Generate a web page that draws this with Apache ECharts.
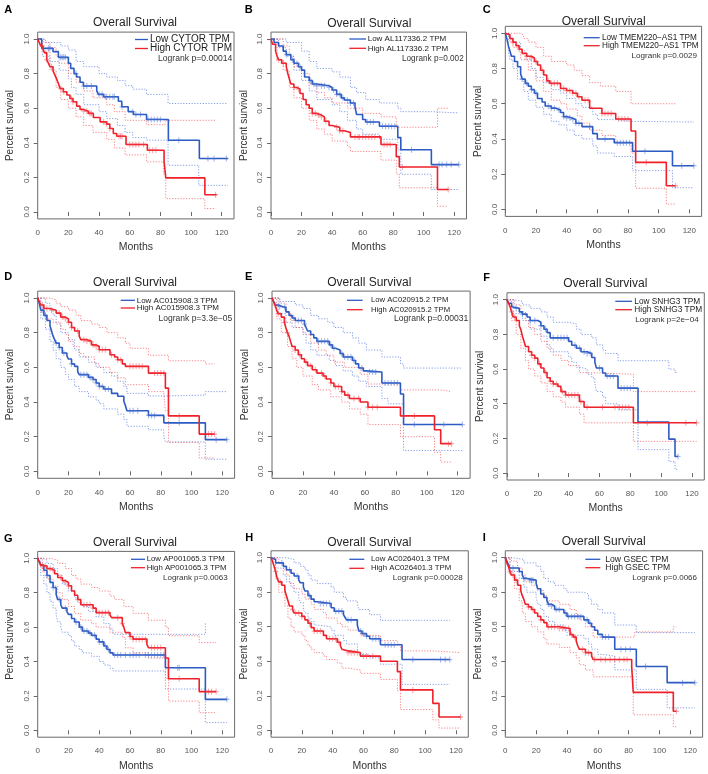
<!DOCTYPE html>
<html><head><meta charset="utf-8">
<script src="https://cdn.jsdelivr.net/npm/echarts@6/dist/echarts.min.js"></script>
<style>html,body{margin:0;padding:0;background:#fff}#c{width:708px;height:774px}</style>
</head><body><div id="c"></div>
<script>
// ---------------- DATA ----------------
const panelLetters = ['A','B','C','D','E','F','G','H','I'];
const geneNames = ['CYTOR','AL117336.2','TMEM220\u2212AS1','AC015908.3','AC020915.2','SNHG3','AP001065.3','AC026401.3','GSEC'];
const logrankP = ['0.00014','0.002','0.0029','3.3e\u221205','0.00031','2e\u221204','0.0063','0.00028','0.0066'];
const xTickValues = [0,20,40,60,80,100,120];
const yTickValues = [0,0.2,0.4,0.6,0.8,1.0];

// Panel A
const A_low = [[0,1],[2.6,0.946],[10,0.927],[13.5,0.894],[20,0.86],[21.5,0.83],[23.7,0.80],[25.4,0.78],[27.6,0.75],[29.8,0.728],[38.5,0.70],[39.6,0.68],[43,0.666],[52.6,0.64],[54.8,0.608],[59,0.58],[62.4,0.564],[71,0.535],[85.2,0.415],[105.4,0.309],[124,0.309]];
const A_high = [[0,1],[1,0.98],[2,0.96],[3.5,0.94],[4.5,0.92],[5.9,0.88],[7,0.86],[8,0.84],[10,0.815],[11.3,0.79],[12.5,0.765],[13.5,0.743],[14.6,0.714],[16.7,0.695],[19,0.676],[21,0.656],[23,0.637],[25.4,0.612],[27.6,0.593],[29.8,0.583],[33,0.57],[36.3,0.546],[40.7,0.521],[45,0.508],[47,0.483],[49.3,0.454],[51.5,0.438],[57.6,0.39],[71.5,0.357],[82.4,0.295],[83.5,0.197],[109,0.10],[116.7,0.10]];
const A_lowCens = [7,8,15,16,17,18,25,30,32,35,40,42,44,45,47,49,50,55,62,64,67,72,74,76,78,80,92,111,115,123];
const A_highCens = [3,6,9,15,17,22,23,30,32,34,35,43,45,47,53,54,55,60,62,64,66,69,73,75,77,116];
const A_lowUp = [[0,1],[5,0.98],[15,0.96],[20,0.936],[25,0.87],[30,0.84],[40,0.80],[45,0.78],[52,0.76],[57,0.73],[62,0.71],[71,0.68],[85,0.627],[124,0.627]];
const A_lowLo = [[0,1],[3,0.9],[8,0.87],[14,0.82],[20,0.77],[22,0.72],[25,0.68],[30,0.62],[40,0.58],[45,0.54],[52,0.50],[57,0.46],[62,0.43],[71,0.415],[85,0.27],[105,0.154],[124,0.154]];
const A_highUp = [[0,1],[4,0.98],[8,0.95],[12,0.9],[14,0.86],[20,0.8],[25,0.75],[30,0.70],[36,0.66],[45,0.62],[50,0.58],[57,0.53],[71,0.505],[83,0.53],[116,0.53]];
const A_highLo = [[0,1],[3,0.93],[8,0.82],[12,0.72],[15,0.65],[20,0.6],[25,0.55],[30,0.5],[36,0.46],[45,0.42],[50,0.37],[57,0.33],[71,0.29],[82,0.22],[83.5,0.077],[109,0.02],[116,0.02]];

// Panel B
const B_low = [[0,1],[2,0.98],[5,0.96],[8,0.93],[10,0.91],[13,0.88],[15,0.86],[18,0.84],[20,0.82],[22,0.78],[25,0.76],[27,0.74],[30,0.73],[38,0.72],[40,0.705],[43,0.68],[46,0.66],[48,0.647],[52,0.63],[55,0.608],[56,0.564],[60,0.535],[62,0.52],[71,0.496],[83,0.43],[85,0.36],[105,0.274],[123,0.274]];
const B_high = [[0,1],[1,0.97],[3,0.93],[4,0.9],[5,0.88],[7,0.86],[10,0.84],[11,0.8],[12,0.77],[13,0.74],[15,0.72],[17,0.71],[19,0.685],[21,0.65],[23,0.62],[25,0.6],[27,0.57],[30,0.56],[33,0.55],[35,0.525],[38,0.5],[40,0.49],[45,0.47],[48,0.46],[52,0.434],[72,0.39],[82,0.32],[84,0.26],[109,0.13],[116,0.13]];
const B_lowCens = [10,14,17,19,26,28,30,33,35,38,41,43,45,47,50,52,54,63,65,67,73,75,77,79,81,92,110,112,115,118,123];
const B_highCens = [5,8,15,18,27,29,31,33,36,43,45,47,55,57,58,60,62,64,66,68,74,76,78,86,116];
const B_lowUp = [[0,1],[10,0.98],[20,0.93],[25,0.87],[30,0.83],[40,0.81],[45,0.78],[52,0.72],[56,0.69],[62,0.65],[71,0.63],[83,0.6],[85,0.58],[105,0.573],[123,0.573]];
const B_lowLo = [[0,1],[5,0.95],[10,0.9],[15,0.82],[20,0.76],[25,0.70],[30,0.65],[40,0.62],[45,0.58],[50,0.53],[56,0.48],[60,0.45],[71,0.42],[83,0.36],[85,0.218],[105,0.13],[123,0.13]];
const B_highUp = [[0,1],[8,0.96],[12,0.9],[15,0.84],[20,0.8],[25,0.74],[30,0.69],[35,0.66],[40,0.63],[50,0.6],[60,0.57],[72,0.55],[82,0.49],[109,0.6],[116,0.6]];
const B_highLo = [[0,1],[4,0.88],[8,0.82],[12,0.72],[15,0.66],[20,0.6],[25,0.53],[30,0.48],[35,0.45],[40,0.41],[50,0.38],[52,0.35],[72,0.3],[82,0.22],[84,0.14],[109,0.033],[116,0.033]];

// Panel C
const C_low = [[0,1],[1,0.97],[2,0.93],[3,0.9],[4,0.87],[6,0.84],[8,0.81],[10,0.77],[11,0.74],[13,0.716],[15,0.7],[17,0.68],[19,0.66],[21,0.63],[24,0.61],[26,0.587],[30,0.575],[33,0.564],[36,0.55],[38,0.527],[40,0.52],[43,0.51],[46,0.489],[50,0.47],[57,0.43],[60,0.4],[71,0.379],[83,0.33],[109,0.248],[123,0.248]];
const C_high = [[0,1],[1,0.99],[3,0.97],[5,0.95],[7,0.93],[9,0.91],[11,0.886],[14,0.87],[17,0.86],[19,0.84],[21,0.82],[23,0.79],[25,0.763],[27,0.73],[29,0.716],[36,0.687],[40,0.675],[44,0.66],[47,0.64],[50,0.62],[55,0.574],[63,0.545],[72,0.513],[82,0.445],[85,0.267],[105,0.134],[111,0.134]];
const C_lowCens = [11,14,17,20,28,30,32,35,38,40,42,44,46,48,55,65,73,75,77,79,81,91,115,123];
const C_highCens = [5,9,14,17,20,24,28,30,32,34,38,40,42,44,46,48,52,54,63,65,67,69,74,76,78,80,92,111];
const C_lowUp = [[0,1],[3,0.97],[5,0.95],[10,0.9],[13,0.85],[17,0.8],[20,0.75],[25,0.72],[30,0.68],[36,0.66],[40,0.63],[46,0.6],[50,0.58],[57,0.54],[60,0.51],[71,0.5],[83,0.496],[123,0.496]];
const C_lowLo = [[0,1],[2,0.9],[3,0.85],[5,0.8],[8,0.74],[12,0.67],[15,0.62],[20,0.58],[25,0.54],[30,0.5],[35,0.48],[40,0.45],[45,0.42],[50,0.4],[57,0.36],[60,0.32],[71,0.3],[83,0.22],[109,0.123],[123,0.123]];
const C_highUp = [[0,1],[10,0.99],[12,0.97],[15,0.95],[20,0.92],[25,0.87],[30,0.84],[40,0.82],[45,0.79],[50,0.76],[55,0.72],[62,0.7],[72,0.67],[82,0.6],[111,0.6]];
const C_highLo = [[0,1],[3,0.95],[5,0.92],[10,0.85],[15,0.79],[20,0.73],[25,0.67],[30,0.62],[36,0.6],[40,0.57],[47,0.53],[50,0.49],[55,0.45],[63,0.42],[72,0.38],[82,0.32],[85,0.12],[105,0.03],[111,0.03]];

// Panel D
const D_low = [[0,1],[1,0.97],[2,0.93],[4,0.9],[6,0.87],[8,0.84],[9,0.81],[10,0.78],[11,0.76],[12,0.74],[14,0.715],[16,0.683],[19,0.665],[20,0.648],[22,0.62],[24,0.606],[26,0.575],[27,0.558],[33,0.542],[36,0.53],[38,0.51],[40,0.49],[43,0.475],[48,0.45],[52,0.433],[56,0.404],[57,0.38],[58,0.35],[72,0.323],[82,0.28],[109,0.183],[123,0.183]];
const D_high = [[0,1],[1,0.98],[2,0.96],[4,0.94],[8,0.93],[12,0.913],[15,0.89],[18,0.88],[20,0.86],[22,0.83],[24,0.81],[27,0.78],[28,0.76],[32,0.75],[35,0.73],[38,0.72],[40,0.702],[47,0.673],[50,0.66],[52,0.644],[55,0.62],[57,0.606],[72,0.567],[83,0.48],[85,0.32],[105,0.215],[115,0.215]];
const D_lowCens = [3,5,12,14,17,22,28,30,32,34,36,38,40,42,44,46,60,62,65,72,74,76,92,116,123];
const D_highCens = [3,6,9,14,16,18,20,22,26,30,32,34,36,38,40,42,44,48,52,54,60,62,64,66,68,76,78,80,82,92,111,113,115];
const D_lowUp = [[0,1],[5,0.97],[8,0.93],[10,0.9],[12,0.85],[15,0.8],[20,0.76],[24,0.7],[27,0.66],[33,0.63],[38,0.6],[43,0.57],[48,0.55],[52,0.52],[56,0.49],[58,0.45],[72,0.435],[82,0.44],[109,0.46],[123,0.46]];
const D_lowLo = [[0,1],[2,0.88],[5,0.82],[8,0.75],[10,0.7],[12,0.65],[15,0.6],[18,0.56],[20,0.53],[24,0.49],[27,0.46],[33,0.43],[38,0.41],[40,0.39],[43,0.36],[52,0.33],[56,0.3],[58,0.26],[72,0.24],[82,0.2],[83,0.17],[109,0.07],[123,0.07]];
const D_highUp = [[0,1],[8,0.99],[12,0.97],[15,0.95],[20,0.93],[25,0.9],[28,0.87],[35,0.85],[40,0.83],[45,0.8],[52,0.77],[57,0.74],[60,0.71],[72,0.67],[85,0.638],[109,0.62],[115,0.62]];
const D_highLo = [[0,1],[2,0.92],[5,0.88],[10,0.86],[15,0.82],[18,0.79],[20,0.75],[23,0.72],[27,0.68],[30,0.66],[37,0.62],[40,0.6],[47,0.57],[52,0.54],[57,0.5],[72,0.46],[82,0.44],[83,0.35],[85,0.167],[105,0.077],[115,0.077]];

// Panel E
const E_low = [[0,1],[1,0.98],[2,0.96],[4,0.95],[7,0.946],[9,0.92],[11,0.9],[13,0.885],[15,0.87],[21,0.85],[22,0.83],[23,0.81],[25,0.79],[27,0.77],[29,0.75],[37,0.73],[39,0.71],[41,0.7],[44,0.68],[46,0.66],[52,0.64],[54,0.62],[56,0.596],[59,0.58],[61,0.573],[71,0.51],[83,0.446],[85,0.27],[123,0.27]];
const E_high = [[0,1],[1,0.98],[2,0.96],[3,0.93],[4,0.91],[6,0.89],[8,0.86],[9,0.827],[10,0.8],[11,0.78],[12,0.75],[13,0.72],[15,0.7],[17,0.673],[19,0.65],[21,0.63],[23,0.61],[26,0.586],[29,0.567],[33,0.55],[35,0.533],[38,0.51],[40,0.49],[45,0.46],[47,0.44],[50,0.42],[57,0.4],[62,0.37],[83,0.32],[105,0.24],[109,0.16],[116,0.16]];
const E_lowCens = [5,8,14,17,19,21,30,32,34,36,38,40,45,47,49,51,53,58,63,65,67,73,75,77,79,81,92,111,123];
const E_highCens = [2,4,8,10,15,18,22,25,28,32,34,38,41,43,45,49,53,56,62,65,68,85,92,114,116];
const E_lowUp = [[0,1],[5,0.98],[15,0.96],[20,0.94],[25,0.9],[30,0.88],[36,0.86],[40,0.83],[46,0.8],[52,0.77],[56,0.74],[61,0.7],[71,0.66],[83,0.62],[85,0.596],[123,0.596]];
const E_lowLo = [[0,1],[4,0.91],[9,0.86],[13,0.83],[20,0.8],[22,0.74],[25,0.7],[29,0.67],[37,0.64],[41,0.61],[46,0.58],[52,0.55],[56,0.52],[61,0.49],[71,0.42],[75,0.39],[85,0.12],[123,0.12]];
const E_highUp = [[0,1],[5,0.97],[9,0.92],[12,0.87],[15,0.83],[20,0.79],[25,0.74],[30,0.7],[35,0.67],[40,0.63],[47,0.6],[57,0.56],[62,0.504],[83,0.47],[109,0.46],[116,0.46]];
const E_highLo = [[0,1],[3,0.88],[6,0.8],[10,0.72],[13,0.65],[16,0.6],[20,0.55],[26,0.5],[30,0.47],[38,0.43],[45,0.4],[50,0.36],[57,0.33],[62,0.27],[83,0.2],[105,0.11],[109,0.054],[116,0.054]];

// Panel F
const F_low = [[0,1],[1,0.98],[3,0.96],[4,0.95],[8,0.93],[10,0.917],[13,0.9],[15,0.88],[20,0.87],[22,0.85],[24,0.83],[26,0.81],[28,0.78],[40,0.76],[42,0.737],[45,0.72],[48,0.7],[52,0.69],[55,0.667],[57,0.64],[58,0.606],[62,0.577],[64,0.56],[72,0.49],[85,0.294],[105,0.196],[109,0.096],[111,0.096]];
const F_high = [[0,1],[1,0.98],[2,0.96],[3,0.93],[4,0.9],[6,0.88],[8,0.85],[9,0.827],[10,0.79],[11,0.76],[12,0.73],[14,0.7],[16,0.68],[18,0.663],[20,0.63],[22,0.606],[24,0.58],[26,0.55],[28,0.53],[30,0.514],[33,0.5],[35,0.47],[38,0.45],[47,0.413],[50,0.38],[82,0.29],[123,0.29]];
const F_lowCens = [6,10,15,18,22,25,30,33,35,37,39,44,47,50,52,54,60,65,67,69,74,76,78,80,111];
const F_highCens = [3,5,16,18,21,25,28,30,32,36,38,40,42,44,46,48,52,62,70,73,75,77,79,91,116,123];
const F_lowUp = [[0,1],[5,0.99],[10,0.97],[15,0.95],[22,0.93],[26,0.9],[30,0.87],[40,0.86],[45,0.83],[48,0.8],[55,0.78],[58,0.74],[62,0.71],[64,0.69],[72,0.648],[105,0.6],[109,0.58],[111,0.58]];
const F_lowLo = [[0,1],[4,0.92],[10,0.88],[15,0.83],[22,0.79],[26,0.74],[28,0.7],[40,0.67],[42,0.64],[45,0.61],[48,0.6],[52,0.57],[55,0.55],[57,0.52],[58,0.47],[62,0.44],[64,0.4],[72,0.365],[85,0.135],[105,0.067],[109,0.02],[111,0.02]];
const F_highUp = [[0,1],[5,0.97],[9,0.93],[12,0.88],[14,0.84],[18,0.8],[22,0.76],[26,0.72],[30,0.68],[35,0.65],[40,0.62],[47,0.58],[50,0.57],[82,0.47],[123,0.47]];
const F_highLo = [[0,1],[3,0.88],[6,0.8],[9,0.72],[12,0.65],[14,0.6],[18,0.56],[22,0.52],[26,0.47],[30,0.44],[35,0.41],[38,0.38],[47,0.34],[50,0.29],[82,0.183],[123,0.183]];

// Panel G
const G_low = [[0,1],[1,0.98],[2,0.96],[4,0.93],[6,0.9],[8,0.86],[10,0.83],[12,0.79],[13,0.76],[15,0.73],[16,0.71],[19,0.69],[20,0.674],[22,0.65],[24,0.63],[27,0.6],[29,0.577],[33,0.565],[35,0.552],[38,0.53],[40,0.514],[43,0.49],[45,0.47],[47,0.45],[49,0.438],[83,0.364],[109,0.18],[123,0.18]];
const G_high = [[0,1],[1,0.98],[2,0.96],[3,0.955],[6,0.94],[9,0.93],[11,0.91],[13,0.888],[16,0.87],[18,0.86],[20,0.84],[22,0.81],[24,0.785],[26,0.76],[28,0.73],[36,0.71],[38,0.684],[47,0.67],[48,0.655],[55,0.62],[56,0.6],[57,0.568],[60,0.545],[62,0.53],[71,0.5],[72,0.48],[83,0.42],[85,0.3],[105,0.225],[116,0.225]];
const G_lowCens = [6,10,14,18,25,28,30,32,34,37,40,42,44,46,50,52,54,57,60,62,64,66,70,72,74,76,78,80,82,91,92,123];
const G_highCens = [3,5,8,10,15,18,20,26,30,32,34,36,40,42,44,46,52,55,60,62,64,66,68,70,74,76,78,80,92,111,113,116];
const G_lowUp = [[0,1],[3,0.99],[6,0.97],[10,0.94],[13,0.9],[16,0.85],[20,0.81],[24,0.77],[27,0.74],[29,0.72],[33,0.69],[38,0.66],[43,0.62],[47,0.59],[49,0.558],[109,0.63]];
const G_lowLo = [[0,1],[2,0.9],[4,0.85],[6,0.8],[8,0.75],[10,0.71],[12,0.67],[13,0.63],[15,0.6],[16,0.57],[20,0.55],[22,0.52],[24,0.49],[27,0.47],[29,0.45],[35,0.43],[40,0.4],[43,0.38],[47,0.36],[49,0.345],[83,0.24],[109,0.045],[123,0.045]];
const G_highUp = [[0,1],[8,0.99],[13,0.97],[18,0.94],[22,0.9],[25,0.88],[28,0.85],[35,0.83],[40,0.81],[47,0.78],[50,0.76],[56,0.72],[62,0.68],[72,0.64],[83,0.6],[85,0.55],[105,0.51],[116,0.51]];
const G_highLo = [[0,1],[3,0.92],[6,0.88],[10,0.84],[13,0.8],[16,0.76],[20,0.72],[24,0.68],[28,0.64],[35,0.62],[38,0.6],[47,0.57],[55,0.54],[57,0.48],[62,0.45],[72,0.42],[83,0.3],[85,0.17],[105,0.103],[116,0.103]];

// Panel H
const H_low = [[0,1],[1,0.99],[3,0.97],[8,0.95],[10,0.93],[13,0.91],[15,0.894],[18,0.87],[19,0.855],[21,0.83],[22,0.807],[24,0.78],[26,0.76],[28,0.745],[30,0.735],[39,0.71],[41,0.69],[47,0.67],[48,0.655],[49,0.64],[56,0.61],[57,0.575],[59,0.56],[62,0.545],[64,0.53],[71,0.496],[85,0.41],[116,0.41]];
const H_high = [[0,1],[1,0.98],[2,0.95],[3,0.92],[4,0.88],[5,0.86],[7,0.84],[9,0.81],[10,0.78],[11,0.75],[12,0.72],[14,0.7],[15,0.68],[20,0.66],[22,0.64],[24,0.62],[26,0.595],[28,0.575],[34,0.55],[36,0.53],[43,0.51],[45,0.49],[46,0.47],[47,0.46],[50,0.45],[58,0.43],[71,0.4],[82,0.34],[84,0.234],[105,0.156],[109,0.077],[123,0.077]];
const H_lowCens = [7,12,17,25,32,34,36,38,42,44,46,50,52,58,60,62,66,68,70,74,76,78,80,92,110,113,116];
const H_highCens = [3,6,14,16,18,20,25,28,30,32,38,40,42,44,50,52,54,56,60,62,66,92,123];
const H_lowUp = [[0,1],[10,0.99],[15,0.97],[19,0.95],[22,0.93],[24,0.9],[26,0.87],[30,0.85],[39,0.83],[41,0.8],[47,0.77],[49,0.75],[56,0.73],[57,0.7],[64,0.67],[71,0.637],[116,0.637]];
const H_lowLo = [[0,1],[3,0.94],[8,0.9],[10,0.86],[13,0.83],[15,0.8],[18,0.77],[19,0.74],[21,0.7],[22,0.68],[24,0.65],[26,0.63],[28,0.61],[30,0.6],[39,0.58],[41,0.55],[47,0.52],[49,0.5],[56,0.47],[57,0.44],[64,0.42],[71,0.383],[85,0.266],[116,0.266]];
const H_highUp = [[0,1],[5,0.97],[8,0.93],[10,0.9],[12,0.85],[15,0.82],[20,0.79],[22,0.76],[26,0.73],[28,0.7],[34,0.68],[36,0.65],[43,0.62],[46,0.6],[50,0.58],[58,0.55],[71,0.52],[82,0.5],[84,0.46],[105,0.45],[123,0.45]];
const H_highLo = [[0,1],[3,0.88],[5,0.8],[9,0.72],[11,0.65],[13,0.6],[15,0.57],[20,0.55],[22,0.52],[24,0.49],[26,0.47],[28,0.45],[34,0.43],[36,0.41],[43,0.39],[46,0.36],[50,0.35],[58,0.33],[71,0.295],[82,0.23],[84,0.12],[105,0.06],[109,0.013],[123,0.013]];

// Panel I
const I_low = [[0,1],[1,0.98],[2,0.96],[3,0.94],[9,0.92],[11,0.9],[12,0.88],[14,0.87],[20,0.85],[21,0.82],[23,0.79],[25,0.77],[27,0.75],[28,0.73],[30,0.72],[32,0.7],[38,0.68],[40,0.66],[51,0.64],[54,0.62],[56,0.6],[58,0.58],[60,0.556],[63,0.54],[71,0.47],[85,0.37],[105,0.276],[123,0.276]];
const I_high = [[0,1],[1,0.97],[2,0.95],[3,0.92],[4,0.9],[6,0.87],[8,0.84],[10,0.81],[11,0.78],[12,0.76],[13,0.73],[15,0.715],[17,0.7],[19,0.68],[21,0.66],[23,0.64],[25,0.624],[27,0.6],[35,0.59],[42,0.555],[44,0.54],[46,0.517],[47,0.49],[48,0.47],[52,0.45],[56,0.43],[57,0.41],[82,0.37],[83,0.22],[109,0.11],[111,0.11]];
const I_lowCens = [5,12,16,17,18,28,30,33,35,39,41,43,45,47,49,53,55,63,65,67,75,78,81,91,115,123];
const I_highCens = [3,5,7,15,18,23,28,30,32,35,37,39,41,43,45,50,52,54,58,62,65,68,71,74,77,79,111];
const I_lowUp = [[0,1],[5,0.99],[12,0.97],[20,0.95],[23,0.92],[25,0.88],[28,0.86],[32,0.84],[38,0.82],[40,0.8],[51,0.79],[54,0.76],[56,0.73],[60,0.7],[63,0.68],[71,0.61],[85,0.566],[123,0.566]];
const I_lowLo = [[0,1],[3,0.92],[9,0.88],[12,0.83],[14,0.8],[20,0.77],[21,0.73],[23,0.7],[25,0.66],[28,0.63],[32,0.61],[38,0.58],[40,0.55],[51,0.53],[54,0.5],[56,0.47],[60,0.44],[63,0.43],[71,0.35],[85,0.237],[105,0.13],[123,0.13]];
const I_highUp = [[0,1],[4,0.98],[8,0.94],[11,0.9],[13,0.86],[17,0.84],[21,0.81],[25,0.78],[27,0.75],[35,0.73],[42,0.7],[46,0.67],[48,0.64],[52,0.6],[57,0.54],[84,0.57],[109,0.6],[111,0.6]];
const I_highLo = [[0,1],[3,0.9],[6,0.82],[9,0.75],[11,0.68],[13,0.63],[17,0.6],[21,0.57],[25,0.53],[27,0.5],[35,0.48],[42,0.45],[46,0.42],[48,0.38],[52,0.35],[57,0.31],[83,0.09],[109,0.02],[111,0.02]];

const panelData = [
  [A_low,A_high,A_lowUp,A_lowLo,A_highUp,A_highLo,A_lowCens,A_highCens],
  [B_low,B_high,B_lowUp,B_lowLo,B_highUp,B_highLo,B_lowCens,B_highCens],
  [C_low,C_high,C_lowUp,C_lowLo,C_highUp,C_highLo,C_lowCens,C_highCens],
  [D_low,D_high,D_lowUp,D_lowLo,D_highUp,D_highLo,D_lowCens,D_highCens],
  [E_low,E_high,E_lowUp,E_lowLo,E_highUp,E_highLo,E_lowCens,E_highCens],
  [F_low,F_high,F_lowUp,F_lowLo,F_highUp,F_highLo,F_lowCens,F_highCens],
  [G_low,G_high,G_lowUp,G_lowLo,G_highUp,G_highLo,G_lowCens,G_highCens],
  [H_low,H_high,H_lowUp,H_lowLo,H_highUp,H_highLo,H_lowCens,H_highCens],
  [I_low,I_high,I_lowUp,I_lowLo,I_highUp,I_highLo,I_lowCens,I_highCens]
];

// ---------------- LAYOUT (positions / styles) ----------------
const layout = [
  {left:37.7, top:32.1, w:196.3, h:186.8, tX:135,   tY:23,    lX:8.3,   lY:10,    legX:150,   ln:[135,148],     r1:39.5,  r2:48.5,  pY:58.5,  pR:232.3, lf:10,  pf:8.6},
  {left:271,  top:32.1, w:195.5, h:186.8, tX:369.3, tY:23.3,  lX:248.7, lY:10,    legX:367.7, ln:[349.3,366],   r1:39,    r2:48.3,  pY:58.3,  pR:463.7, lf:8,   pf:8.2},
  {left:505.3,top:26.3, w:196.3, h:190.1, tX:603.7, tY:21.7,  lX:486.7, lY:10,    legX:602,   ln:[583.7,599.7], r1:37.7,  r2:45.7,  pY:55.7,  pR:697,   lf:8.2, pf:8.1},
  {left:37.7, top:291.1,w:196.9, h:187.2, tX:135,   tY:283,   lX:8.3,   lY:277,   legX:136.7, ln:[120.7,135],   r1:300.3, r2:308,   pY:318.7, pR:232.3, lf:8,   pf:8.5},
  {left:272,  top:291.1,w:198.1, h:187.2, tX:369.3, tY:283,   lX:248.7, lY:277,   legX:371,   ln:[347,362.7],   r1:300.3, r2:309.7, pY:318.7, pR:468.3, lf:7.7, pf:8.6},
  {left:507,  top:292.8,w:197.3, h:187.2, tX:605.3, tY:284,   lX:486.7, lY:277.7, legX:634.3, ln:[615.3,632],   r1:301.3, r2:309.7, pY:319.7, pR:698.7, lf:8.3, pf:8.1},
  {left:37.7, top:551.4,w:196.9, h:185.8, tX:135,   tY:542.7, lX:8.3,   lY:538.5, legX:146.7, ln:[131,145],     r1:559.3, r2:567.7, pY:577.7, pR:227.7, lf:7.8, pf:8},
  {left:271,  top:550.8,w:197.3, h:186.4, tX:369.3, tY:542.7, lX:249.3, lY:537.7, legX:371,   ln:[349.3,364.3], r1:559.3, r2:568.3, pY:577.7, pR:462.7, lf:7.8, pf:8.1},
  {left:505.3,top:550.8,w:197.3, h:186.4, tX:603.7, tY:542,   lX:484.3, lY:537.7, legX:605.3, ln:[585.3,600.3], r1:559.3, r2:567.7, pY:577.7, pR:697,   lf:8.6, pf:8}
];

const FONT = 'Liberation Sans, Arial, Helvetica, sans-serif';
const BLUE = '#2d5bc4', RED = '#ef2029';
const BLUE_CI = 'rgba(90,125,225,0.75)', RED_CI = 'rgba(245,80,85,0.7)';
const BLUE_C = 'rgba(70,110,210,0.6)', RED_C = 'rgba(240,60,70,0.55)';
const PLUS = 'path://M5,0L5,10M0,5L10,5';

function stepAt(curve, t) {
  let v = curve[0][1];
  for (const p of curve) { if (p[0] <= t) v = p[1]; else break; }
  return v;
}

const grids = [], xAxes = [], yAxes = [], series = [], graphics = [];
layout.forEach((L, i) => {
  const [low, high, lowUp, lowLo, highUp, highLo, lowC, highC] = panelData[i];
  grids.push({left:L.left, top:L.top, width:L.w, height:L.h, show:true, borderColor:'#6a6a6a', borderWidth:1,
    backgroundColor:'transparent', containLabel:false, outerBoundsMode:'none'});
  xAxes.push({type:'value', gridIndex:i, min:0, max:128, position:'bottom',
    axisLine:{show:false}, splitLine:{show:false},
    axisTick:{show:true, inside:false, length:4, customValues:xTickValues, lineStyle:{color:'#6a6a6a', width:1}},
    axisLabel:{customValues:xTickValues, fontSize:8, color:'#555', margin:10, fontFamily:FONT},
    name:'Months', nameLocation:'middle', nameGap:23, nameMoveOverlap:false,
    nameTextStyle:{fontSize:10.5, color:'#333', fontFamily:FONT}});
  yAxes.push({type:'value', gridIndex:i, min:-0.04, max:1.04, position:'left',
    axisLine:{show:false}, splitLine:{show:false},
    axisTick:{show:true, inside:false, length:4, customValues:yTickValues, lineStyle:{color:'#6a6a6a', width:1}},
    axisLabel:{customValues:yTickValues, fontSize:8, color:'#555', margin:7, rotate:90, fontFamily:FONT,
      formatter:(v)=>Number(v).toFixed(1)},
    name:'Percent survival', nameLocation:'middle', nameGap:22, nameMoveOverlap:false,
    nameTextStyle:{fontSize:10, color:'#333', fontFamily:FONT}});

  const ci = (d, c) => ({type:'line', xAxisIndex:i, yAxisIndex:i, data:d, step:'end', symbol:'none', silent:true,
    lineStyle:{color:c, width:1, type:[1.2,1.6]}, z:2});
  series.push(ci(lowUp, BLUE_CI), ci(lowLo, BLUE_CI), ci(highUp, RED_CI), ci(highLo, RED_CI));
  const main = (d, c) => ({type:'line', xAxisIndex:i, yAxisIndex:i, data:d, step:'end', symbol:'none', silent:true,
    lineStyle:{color:c, width:1.6}, z:3});
  series.push(main(low, BLUE), main(high, RED));
  const cens = (ts, curve, c) => ({type:'scatter', xAxisIndex:i, yAxisIndex:i, silent:true, z:4,
    data: ts.map(t => [t, stepAt(curve, t)]), symbol:PLUS, symbolSize:[5,6], symbolKeepAspect:false,
    itemStyle:{color:'transparent', borderColor:c, borderWidth:1.2}});
  series.push(cens(lowC, low, BLUE_C), cens(highC, high, RED_C));

  // title, panel letter, legend
  graphics.push({type:'text', silent:true, style:{text:'Overall Survival', x:L.tX, y:L.tY, align:'center', verticalAlign:'middle',
    fontSize:12, fontFamily:FONT, fill:'#262626'}});
  graphics.push({type:'text', silent:true, style:{text:panelLetters[i], x:L.lX, y:L.lY, align:'center', verticalAlign:'middle',
    fontSize:11, fontWeight:'bold', fontFamily:FONT, fill:'#000'}});
  graphics.push({type:'line', silent:true, shape:{x1:L.ln[0], y1:L.r1, x2:L.ln[1], y2:L.r1}, style:{stroke:BLUE, lineWidth:1.3}});
  graphics.push({type:'line', silent:true, shape:{x1:L.ln[0], y1:L.r2, x2:L.ln[1], y2:L.r2}, style:{stroke:RED, lineWidth:1.3}});
  graphics.push({type:'text', silent:true, style:{text:'Low ' + geneNames[i] + ' TPM', x:L.legX, y:L.r1, align:'left', verticalAlign:'middle',
    fontSize:L.lf, fontFamily:FONT, fill:'#222'}});
  graphics.push({type:'text', silent:true, style:{text:'High ' + geneNames[i] + ' TPM', x:L.legX, y:L.r2, align:'left', verticalAlign:'middle',
    fontSize:L.lf, fontFamily:FONT, fill:'#222'}});
  graphics.push({type:'text', silent:true, style:{text:'Logrank p=' + logrankP[i], x:L.pR, y:L.pY, align:'right', verticalAlign:'middle',
    fontSize:L.pf, fontFamily:FONT, fill:'#333'}});
});

const chart = echarts.init(document.getElementById('c'), null, {renderer:'canvas'});
chart.setOption({
  animation:false,
  backgroundColor:'#fff',
  textStyle:{fontFamily:FONT},
  grid:grids, xAxis:xAxes, yAxis:yAxes, series:series, graphic:graphics
});
</script>
</body></html>
